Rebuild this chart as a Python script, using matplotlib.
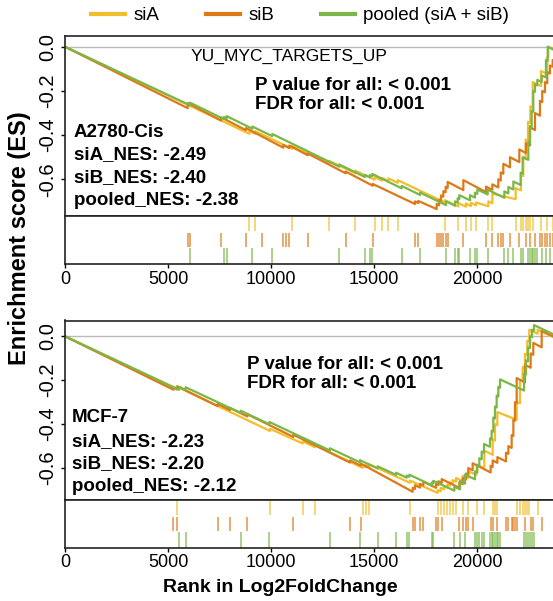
import matplotlib.pyplot as plt
from matplotlib.lines import Line2D

plt.rcParams['font.family'] = ['Liberation Sans', 'DejaVu Sans']
plt.rcParams['axes.unicode_minus'] = False

# colours of the three series
c_siA = '#F2BE2C'
c_siB = '#DD7A18'
c_pooled = '#7BB748'

# ---- panel 1 (A2780-Cis) running enrichment score, vertices
top_siA_rank = [0, 8947, 8947, 9223, 9223, 11034, 11034, 12830, 12830, 14093, 14093,
                15032, 15032, 15387, 15387, 15695, 15695, 16148, 16148, 18445, 18445,
                19092, 19092, 19465, 19465, 19707, 19707, 19950, 19950, 20549, 20549,
                20743, 20743, 21876, 21876, 22134, 22134, 22246, 22246, 22360, 22360,
                22474, 22474, 22587, 22587, 22700, 22700, 23105, 23105, 23412, 23412,
                23460, 23460, 23690]
top_siA_es = [0, -0.394, -0.382, -0.394, -0.382, -0.462, -0.450, -0.529, -0.517, -0.573, -0.561,
              -0.602, -0.590, -0.606, -0.594, -0.608, -0.596, -0.616, -0.604, -0.705, -0.695,
              -0.723, -0.708, -0.724, -0.710, -0.721, -0.707, -0.718, -0.705, -0.722, -0.700,
              -0.708, -0.665, -0.690, -0.640, -0.650, -0.580, -0.585, -0.500, -0.505, -0.420,
              -0.425, -0.340, -0.345, -0.270, -0.275, -0.160, -0.178, -0.110, -0.123, -0.045,
              -0.047, 0.000, -0.010]

top_siB_rank = [0, 5955, 5955, 7572, 7572, 8786, 8786, 10597, 10597, 10888, 10888,
                11780, 11780, 13624, 13624, 14934, 14934, 16989, 16989, 17149, 17149,
                18041, 18041, 18154, 18154, 18251, 18251, 18364, 18364, 18477, 18477,
                18575, 18575, 19335, 19335, 20435, 20435, 20743, 20743, 21034, 21034,
                21150, 21150, 21276, 21276, 21600, 21600, 22052, 22052, 22376, 22376,
                22570, 22570, 22812, 22812, 23055, 23055, 23166, 23166, 23297, 23297,
                23409, 23409, 23540, 23540, 23672, 23672, 23750]
top_siB_es = [0, -0.278, -0.255, -0.334, -0.319, -0.378, -0.368, -0.457, -0.445, -0.459, -0.447,
              -0.491, -0.483, -0.573, -0.565, -0.629, -0.621, -0.712, -0.700, -0.708, -0.698,
              -0.735, -0.712, -0.718, -0.693, -0.698, -0.673, -0.679, -0.654, -0.659, -0.634,
              -0.639, -0.612, -0.649, -0.604, -0.658, -0.633, -0.648, -0.623, -0.637, -0.600,
              -0.606, -0.569, -0.575, -0.530, -0.546, -0.500, -0.522, -0.465, -0.481, -0.437,
              -0.447, -0.365, -0.377, -0.300, -0.312, -0.245, -0.250, -0.200, -0.206, -0.160,
              -0.165, -0.115, -0.121, -0.085, -0.090, -0.060, -0.064]

top_pooled_rank = [0, 6068, 6068, 7718, 7718, 7847, 7847, 9093, 9093, 10064, 10064,
                   13316, 13316, 14562, 14562, 14805, 14805, 14918, 14918, 16342, 16342,
                   17232, 17232, 18494, 18494, 18931, 18931, 19060, 19060, 19140, 19140,
                   19659, 19659, 19901, 19901, 20014, 20014, 20516, 20516, 21325, 21325,
                   21520, 21520, 21763, 21763, 22117, 22117, 22214, 22214, 22489, 22489,
                   22570, 22570, 22651, 22651, 22731, 22731, 22812, 22812, 22925, 22925,
                   23138, 23138, 23345, 23345, 23430, 23430, 23690]
top_pooled_es = [0, -0.265, -0.253, -0.328, -0.318, -0.324, -0.314, -0.371, -0.361, -0.405, -0.395,
                 -0.543, -0.533, -0.590, -0.580, -0.591, -0.581, -0.586, -0.576, -0.641, -0.630,
                 -0.671, -0.660, -0.717, -0.700, -0.720, -0.700, -0.706, -0.686, -0.690, -0.672,
                 -0.695, -0.672, -0.683, -0.661, -0.666, -0.646, -0.669, -0.647, -0.684, -0.655,
                 -0.664, -0.635, -0.646, -0.610, -0.626, -0.570, -0.575, -0.500, -0.512, -0.430,
                 -0.434, -0.360, -0.364, -0.290, -0.294, -0.200, -0.204, -0.170, -0.175, -0.150,
                 -0.160, -0.130, -0.139, -0.060, -0.064, 0.000, -0.012]

# ---- panel 2 (MCF-7)
bot_siA_rank = [0, 5420, 5420, 9951, 9951, 11537, 11537, 12135, 12135, 14449, 14449,
                14611, 14611, 14773, 14773, 16746, 16746, 18089, 18089, 18235, 18235,
                18397, 18397, 18559, 18559, 18688, 18688, 18818, 18818, 18979, 18979,
                19303, 19303, 19577, 19577, 19982, 19982, 20354, 20354, 20759, 20759,
                20872, 20872, 20986, 20986, 21925, 21925, 22086, 22086, 22215, 22215,
                22328, 22328, 22441, 22441, 22538, 22538, 22943, 22943, 23690]
bot_siA_es = [0, -0.243, -0.228, -0.431, -0.421, -0.488, -0.478, -0.505, -0.495, -0.599, -0.589,
              -0.596, -0.586, -0.593, -0.583, -0.667, -0.657, -0.713, -0.700, -0.706, -0.690,
              -0.697, -0.682, -0.689, -0.674, -0.680, -0.665, -0.671, -0.655, -0.662, -0.645,
              -0.660, -0.635, -0.645, -0.615, -0.630, -0.585, -0.600, -0.520, -0.540, -0.470,
              -0.475, -0.400, -0.405, -0.345, -0.380, -0.300, -0.305, -0.200, -0.205, -0.140,
              -0.145, -0.080, -0.085, -0.020, -0.024, 0.030, 0.012, 0.030, -0.003]

bot_siB_rank = [0, 5258, 5258, 5453, 5453, 7411, 7411, 8009, 8009, 8851, 8851,
                11083, 11083, 13834, 13834, 14352, 14352, 16876, 16876, 16989, 16989,
                17232, 17232, 17393, 17393, 18008, 18008, 18121, 18121, 18284, 18284,
                19140, 19140, 19303, 19303, 19465, 19465, 19577, 19577, 19788, 19788,
                20661, 20661, 20759, 20759, 20986, 20986, 21406, 21406, 21520, 21520,
                21681, 21681, 21763, 21763, 21843, 21843, 21925, 21925, 22328, 22328,
                22603, 22603, 22731, 22731, 23138, 23138, 23690]
bot_siB_es = [0, -0.243, -0.232, -0.241, -0.228, -0.318, -0.308, -0.336, -0.326, -0.365, -0.355,
              -0.458, -0.448, -0.575, -0.565, -0.589, -0.579, -0.708, -0.690, -0.695, -0.678,
              -0.689, -0.672, -0.679, -0.662, -0.690, -0.672, -0.677, -0.660, -0.668, -0.650,
              -0.690, -0.665, -0.673, -0.645, -0.652, -0.625, -0.630, -0.600, -0.610, -0.578,
              -0.620, -0.590, -0.595, -0.565, -0.576, -0.550, -0.570, -0.530, -0.535, -0.500,
              -0.508, -0.450, -0.454, -0.380, -0.384, -0.300, -0.304, -0.190, -0.210, -0.130,
              -0.143, -0.078, -0.084, -0.030, -0.050, 0.025, 0.000]

bot_pooled_rank = [0, 5534, 5534, 5857, 5857, 8527, 8527, 9919, 9919, 12863, 12863,
                   14320, 14320, 15177, 15177, 16067, 16067, 16584, 16584, 16714, 16714,
                   17798, 17798, 17879, 17879, 18899, 18899, 19174, 19174, 19416, 19416,
                   19901, 19901, 20014, 20014, 20111, 20111, 20225, 20225, 20338, 20338,
                   20629, 20629, 20710, 20710, 20790, 20790, 20872, 20872, 20953, 20953,
                   21034, 21034, 21115, 21115, 22280, 22280, 22376, 22376, 22474, 22474,
                   22570, 22570, 22668, 22668, 22765, 22765, 23690]
bot_pooled_es = [0, -0.243, -0.230, -0.244, -0.232, -0.349, -0.339, -0.400, -0.390, -0.520, -0.510,
                 -0.574, -0.564, -0.602, -0.592, -0.631, -0.621, -0.644, -0.634, -0.640, -0.630,
                 -0.678, -0.666, -0.670, -0.658, -0.703, -0.685, -0.697, -0.660, -0.671, -0.630,
                 -0.651, -0.615, -0.620, -0.585, -0.589, -0.555, -0.560, -0.525, -0.530, -0.490,
                 -0.503, -0.465, -0.469, -0.430, -0.434, -0.370, -0.374, -0.320, -0.324, -0.270,
                 -0.274, -0.230, -0.234, -0.196, -0.247, -0.170, -0.174, -0.110, -0.114, -0.050,
                 -0.054, 0.000, -0.004, 0.030, 0.026, 0.051, 0.010]

# ---- gene set hit positions (rug)
top_hits_siA = [8947, 9223, 11034, 12830, 14093, 15032, 15387, 15695, 16148, 18445, 19092,
                19465, 19707, 19950, 20549, 20743, 21876, 22134, 22246, 22360, 22474, 22587,
                22700, 23105, 23412, 23672]
top_hits_siB = [5955, 6068, 7572, 8786, 9578, 10597, 10727, 10888, 11780, 13624, 14934, 16989,
                17149, 18041, 18154, 18251, 18364, 18477, 18575, 19335, 20435, 20743, 21034,
                21150, 21276, 21600, 22052, 22376, 22570, 22812, 23055, 23166, 23297, 23409,
                23540, 23672]
top_hits_pooled = [6068, 7718, 7847, 9093, 10064, 13316, 14562, 14805, 14918, 16342, 17232,
                   18494, 18931, 19060, 19140, 19659, 19901, 20014, 20516, 21325, 21520, 21763,
                   22117, 22214, 22489, 22570, 22651, 22731, 22812, 22925, 23138, 23345, 23540]

bot_hits_siA = [5420, 9951, 11537, 12135, 14449, 14611, 14773, 16746, 18089, 18235, 18397,
                18559, 18688, 18818, 18979, 19303, 19577, 19982, 20354, 20759, 20872, 20986,
                21925, 22086, 22215, 22328, 22441, 22538, 22943]
bot_hits_siB = [5258, 5453, 7411, 8009, 8851, 11083, 13834, 14352, 16876, 16989, 17232, 17393,
                18008, 18121, 18284, 19140, 19303, 19465, 19577, 19788, 20661, 20759, 20986,
                21406, 21520, 21681, 21763, 21843, 21925, 22328, 22603, 22731, 23138]
bot_hits_pooled = [5534, 5857, 8527, 9919, 12863, 14320, 15177, 16067, 16584, 16714, 17798,
                   17879, 18899, 19174, 19416, 19901, 20014, 20111, 20225, 20338, 20629, 20710,
                   20790, 20872, 20953, 21034, 21115, 22280, 22376, 22474, 22570, 22668, 22765]

x_ticks = [0, 5000, 10000, 15000, 20000]
y_ticks = [0.0, -0.2, -0.4, -0.6]
y_ticklabels = ['0.0', '-0.2', '-0.4', '-0.6']

legend_labels = ['siA', 'siB', 'pooled (siA + siB)']
gene_set = 'YU_MYC_TARGETS_UP'
top_text = ['A2780-Cis', 'siA_NES: -2.49', 'siB_NES: -2.40', 'pooled_NES: -2.38']
bot_text = ['MCF-7', 'siA_NES: -2.23', 'siB_NES: -2.20', 'pooled_NES: -2.12']
p_text = ['P value for all: < 0.001', 'FDR for all: < 0.001']

W, H = 553, 601
fig = plt.figure(figsize=(W / 100, H / 100), dpi=100)


def box(left, top, right, bottom):
    return [left / W, 1 - bottom / H, (right - left) / W, (bottom - top) / H]


def style(ax):
    for s in ax.spines.values():
        s.set_linewidth(1.2)
        s.set_color('#222222')


def es_panel(ax, curves, ylim):
    ax.axhline(0, color='#BBBBBB', lw=1.0, zorder=1)
    for r, e, c in curves:
        ax.plot(r, e, color=c, lw=1.6, zorder=2)
    ax.set_xlim(0, 24000)
    ax.set_ylim(*ylim)
    ax.set_xticks([])
    ax.set_yticks(y_ticks)
    ax.set_yticklabels(y_ticklabels, rotation=90, va='center', fontsize=14.5)
    ax.tick_params(axis='y', direction='out', length=3, width=1, pad=2.5)
    style(ax)


def rug_panel(ax, hits):
    rows = [(2.05, 2.9), (1.05, 1.95), (0.0, 0.98)]
    for (h, c), (y0, y1) in zip(hits, rows):
        ax.vlines(h, y0, y1, color=c, lw=1.1, alpha=0.8)
    ax.set_xlim(0, 24000)
    ax.set_ylim(0, 3)
    ax.set_yticks([])
    ax.set_xticks(x_ticks)
    ax.set_xticklabels([str(t) for t in x_ticks], fontsize=13)
    ax.tick_params(axis='x', direction='out', length=3, width=1, pad=1.5)
    style(ax)


def texts(ax, block, bx, by, px, py):
    for t, y in zip(block, by):
        ax.text(bx, y, t, transform=ax.transAxes, fontsize=13.5,
                fontweight='bold', va='center', ha='left')
    for t, y in zip(p_text, py):
        ax.text(px, y, t, transform=ax.transAxes, fontsize=13.5,
                fontweight='bold', va='center', ha='left')


right = 65 + 24000 / 48.54
ax1 = fig.add_axes(box(65, 35.5, right, 215.5))
rug1 = fig.add_axes(box(65, 215.5, right, 264.3))
ax2 = fig.add_axes(box(65, 320.5, right, 499.7))
rug2 = fig.add_axes(box(65, 499.7, right, 548))

es_panel(ax1, [(top_siA_rank, top_siA_es, c_siA),
               (top_siB_rank, top_siB_es, c_siB),
               (top_pooled_rank, top_pooled_es, c_pooled)], (-0.764, 0.051))
es_panel(ax2, [(bot_siA_rank, bot_siA_es, c_siA),
               (bot_siB_rank, bot_siB_es, c_siB),
               (bot_pooled_rank, bot_pooled_es, c_pooled)], (-0.744, 0.072))

rug_panel(rug1, [(top_hits_siA, c_siA), (top_hits_siB, c_siB), (top_hits_pooled, c_pooled)])
rug_panel(rug2, [(bot_hits_siA, c_siA), (bot_hits_siB, c_siB), (bot_hits_pooled, c_pooled)])

ax1.text(0.453, 0.881, gene_set, transform=ax1.transAxes, fontsize=12.5,
         ha='center', va='center')
texts(ax1, top_text, 0.0176, [0.46, 0.336, 0.212, 0.081], 0.384, [0.725, 0.614])
texts(ax2, bot_text, 0.0142, [0.456, 0.326, 0.201, 0.071], 0.368, [0.753, 0.647])

fig.text(20 / W, 1 - 238 / H, 'Enrichment score (ES)', rotation=90, fontsize=17,
         fontweight='bold', ha='center', va='center')
fig.text(280 / W, 1 - 587 / H, 'Rank in Log2FoldChange', fontsize=14,
         fontweight='bold', ha='center', va='center')

handles = [Line2D([], [], color=c, lw=3) for c in (c_siA, c_siB, c_pooled)]
fig.legend(handles, legend_labels, loc='center', bbox_to_anchor=(300 / W, 1 - 15.7 / H),
           ncol=3, frameon=False, fontsize=13.5, handlelength=1.8, handletextpad=0.45,
           columnspacing=2.5, borderpad=0, borderaxespad=0)

fig.savefig('out.png', dpi=100)
